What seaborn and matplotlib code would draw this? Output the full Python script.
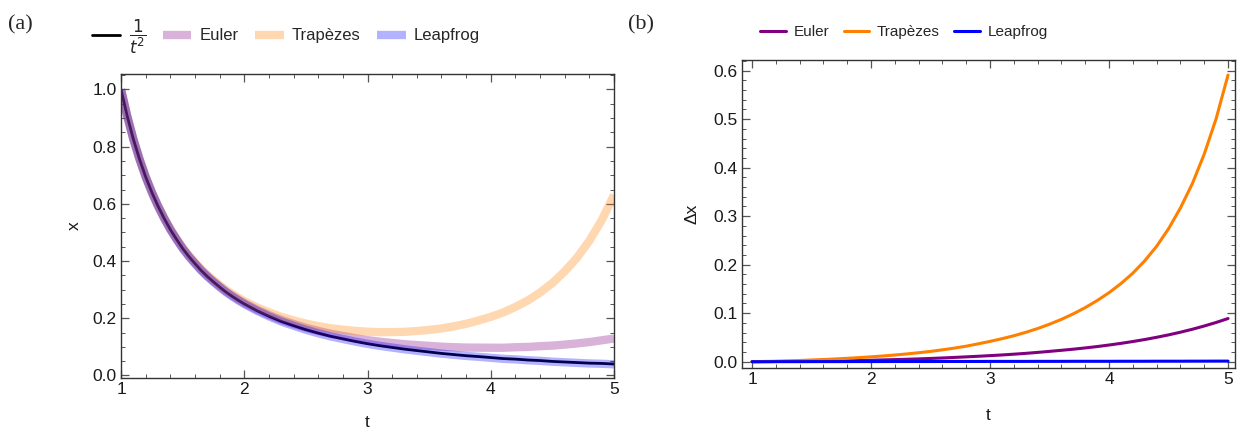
import numpy as np
import pandas as pd
import matplotlib
matplotlib.use("Agg")
import matplotlib.pyplot as plt
from matplotlib.ticker import MultipleLocator, FormatStrFormatter
from matplotlib.lines import Line2D
import seaborn as sns

# ---------------- data ----------------
t = [1.00, 1.05, 1.10, 1.15, 1.20, 1.25, 1.30, 1.35, 1.40, 1.45,
     1.50, 1.55, 1.60, 1.65, 1.70, 1.75, 1.80, 1.85, 1.90, 1.95,
     2.0, 2.1, 2.2, 2.3, 2.4, 2.5, 2.6, 2.7, 2.8, 2.9,
     3.0, 3.1, 3.2, 3.3, 3.4, 3.5, 3.6, 3.7, 3.8, 3.9,
     4.0, 4.1, 4.2, 4.3, 4.4, 4.5, 4.6, 4.7, 4.8, 4.9, 5.0]

x_exact = [1.000, 0.907, 0.826, 0.756, 0.694, 0.640, 0.592, 0.549, 0.510, 0.476,
           0.444, 0.416, 0.391, 0.367, 0.346, 0.327, 0.309, 0.292, 0.277, 0.263,
           0.250, 0.227, 0.207, 0.189, 0.174, 0.160, 0.148, 0.137, 0.128, 0.119,
           0.111, 0.104, 0.098, 0.092, 0.087, 0.082, 0.077, 0.073, 0.069, 0.066,
           0.0625, 0.059, 0.057, 0.054, 0.052, 0.049, 0.047, 0.045, 0.043, 0.042, 0.040]

dx_euler = [0.0000, 0.0001, 0.0002, 0.0003, 0.0004, 0.0005, 0.0006, 0.0007, 0.0008, 0.0009,
            0.0010, 0.0011, 0.0013, 0.0015, 0.0017, 0.0019, 0.0021, 0.0023, 0.0026, 0.0028,
            0.0031, 0.0037, 0.0043, 0.0050, 0.0058, 0.0067, 0.0077, 0.0088, 0.0100, 0.0112,
            0.0125, 0.0139, 0.0155, 0.0172, 0.0192, 0.0213, 0.0235, 0.0258, 0.0284, 0.0312,
            0.0344, 0.0378, 0.0416, 0.0457, 0.0503, 0.0553, 0.0608, 0.0669, 0.0736, 0.0809, 0.0890]

dx_trap = [0.0000, 0.0002, 0.0005, 0.0007, 0.0010, 0.0013, 0.0017, 0.0021, 0.0025, 0.0030,
           0.0035, 0.0040, 0.0045, 0.0051, 0.0057, 0.0063, 0.0070, 0.0077, 0.0085, 0.0092,
           0.0100, 0.0118, 0.0138, 0.0160, 0.0185, 0.0212, 0.0245, 0.0280, 0.0320, 0.0368,
           0.0419, 0.0474, 0.0535, 0.0605, 0.0684, 0.0773, 0.0873, 0.0987, 0.1115, 0.1260,
           0.1423, 0.1610, 0.1825, 0.2080, 0.2380, 0.2740, 0.3170, 0.3670, 0.4280, 0.5010, 0.5910]

dx_leap = [0.0000, 0.0000, 0.0000, 0.0000, 0.0001, 0.0001, 0.0001, 0.0001, 0.0001, 0.0001,
           0.0002, 0.0002, 0.0002, 0.0002, 0.0002, 0.0002, 0.0002, 0.0003, 0.0003, 0.0003,
           0.0003, 0.0003, 0.0004, 0.0004, 0.0004, 0.0004, 0.0005, 0.0005, 0.0005, 0.0005,
           0.0006, 0.0006, 0.0006, 0.0006, 0.0007, 0.0007, 0.0007, 0.0008, 0.0008, 0.0008,
           0.0008, 0.0009, 0.0009, 0.0009, 0.0010, 0.0010, 0.0010, 0.0011, 0.0011, 0.0012, 0.0012]

labels = ["Euler", "Trapèzes", "Leapfrog"]
colors = ["#800080", "#FF8000", "#0000FF"]

# ---------------- frames ----------------
xe = np.array(x_exact)
df = pd.DataFrame({
    "t": t,
    "exact": xe,
    "Euler": xe + np.array(dx_euler),
    "Trapèzes": xe + np.array(dx_trap),
    "Leapfrog": xe - np.array(dx_leap),
    "dEuler": dx_euler,
    "dTrapèzes": dx_trap,
    "dLeapfrog": dx_leap,
})

sns.set_style("ticks")
plt.rcParams["font.family"] = ["Liberation Sans", "DejaVu Sans"]

fig = plt.figure(figsize=(12.44, 4.33), dpi=100)
axa = fig.add_axes([0.0973, 0.127, 0.3963, 0.702])
axb = fig.add_axes([0.5965, 0.1501, 0.3963, 0.7113])

# panel (a)
sns.lineplot(data=df, x="t", y="exact", ax=axa, color="black", linewidth=2.0)
for lab, col in zip(labels, colors):
    sns.lineplot(data=df, x="t", y=lab, ax=axa, color=col, alpha=0.3,
                 linewidth=6.0, solid_capstyle="butt", solid_joinstyle="round")

# panel (b)
for lab, col in zip(labels, colors):
    sns.lineplot(data=df, x="t", y="d" + lab, ax=axb, color=col, linewidth=2.2,
                 solid_joinstyle="round")

axa.set_xlim(1, 5)
axa.set_ylim(-0.009, 1.054)
axa.xaxis.set_major_locator(MultipleLocator(1))
axa.xaxis.set_minor_locator(MultipleLocator(0.2))
axa.yaxis.set_major_locator(MultipleLocator(0.2))
axa.yaxis.set_minor_locator(MultipleLocator(0.05))
axa.yaxis.set_major_formatter(FormatStrFormatter("%.1f"))

axb.set_xlim(0.916, 5.059)
axb.set_ylim(-0.013, 0.622)
axb.xaxis.set_major_locator(MultipleLocator(1))
axb.xaxis.set_minor_locator(MultipleLocator(0.2))
axb.yaxis.set_major_locator(MultipleLocator(0.1))
axb.yaxis.set_minor_locator(MultipleLocator(0.02))
axb.yaxis.set_major_formatter(FormatStrFormatter("%.1f"))

for ax in (axa, axb):
    for s in ax.spines.values():
        s.set_color("#333333")
        s.set_linewidth(1.0)
    ax.tick_params(which="both", direction="in", top=True, right=True,
                   color="#555555", labelsize=12.5, labelcolor="#1a1a1a")
    ax.tick_params(which="major", length=5.5, width=0.9, pad=3)
    ax.tick_params(which="minor", length=3, width=0.7)

axa.set_xlabel("t", fontsize=12.5, color="#1a1a1a", labelpad=13)
axa.set_ylabel("x", fontsize=12.5, color="#1a1a1a", labelpad=8)
axb.set_xlabel("t", fontsize=12.5, color="#1a1a1a", labelpad=15)
axb.set_ylabel("Δx", fontsize=12.5, color="#1a1a1a", labelpad=10)

# panel tags
fig.text(8 / 1244, 1 - 25 / 433, "(a)", fontsize=16, family="Liberation Serif",
         va="center", ha="left")
fig.text(628 / 1244, 1 - 25 / 433, "(b)", fontsize=16, family="Liberation Serif",
         va="center", ha="left")

# legends
ha = [Line2D([], [], color="black", lw=2.0)] + \
     [Line2D([], [], color=c, lw=6.0, alpha=0.3, solid_capstyle="butt") for c in colors]
la = [r"$\dfrac{1}{t^2}$"] + labels
fig.legend(ha, la, loc="center", bbox_to_anchor=(286 / 1244, 1 - 37 / 433), ncol=4,
           frameon=False, fontsize=12, handlelength=1.7, handletextpad=0.5,
           columnspacing=1.0, borderaxespad=0)

hb = [Line2D([], [], color=c, lw=2.2) for c in colors]
fig.legend(hb, labels, loc="center", bbox_to_anchor=(904 / 1244, 1 - 32 / 433), ncol=3,
           frameon=False, fontsize=11, handlelength=1.7, handletextpad=0.5,
           columnspacing=0.9, borderaxespad=0)

fig.savefig("out.png", dpi=100)
